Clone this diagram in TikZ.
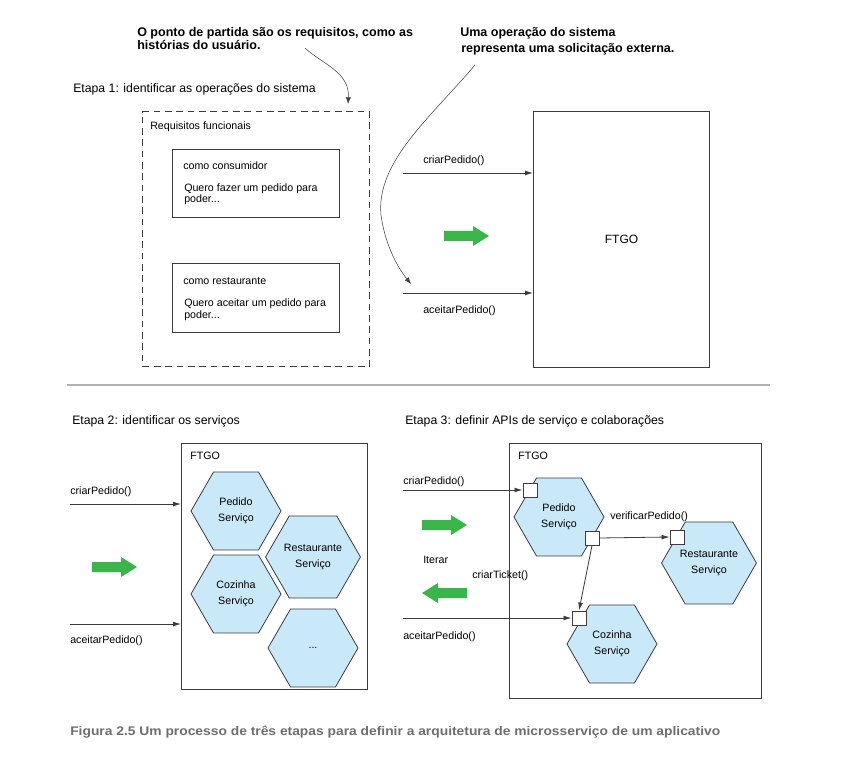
\documentclass[tikz,border=0pt]{standalone}
\usepackage{fontspec}
\setmainfont{Liberation Sans}
\usetikzlibrary{arrows.meta,shapes.geometric}
\definecolor{hexblue}{RGB}{201,232,248}
\definecolor{arrgreen}{RGB}{57,181,74}
\definecolor{capgray}{RGB}{110,110,110}
\definecolor{linegray}{RGB}{60,60,60}
\begin{document}
\begin{tikzpicture}[x=0.75pt,y=-0.75pt,
  small/.style={font=\fontsize{8}{9.6}\selectfont, inner sep=0pt, anchor=base west},
  stage/.style={font=\fontsize{9.2}{11}\selectfont, inner sep=0pt, anchor=base west},
  ann/.style={font=\bfseries\fontsize{9.4}{11}\selectfont, inner sep=0pt, anchor=base west},
  box/.style={draw=linegray, line width=0.8pt, inner sep=0pt},
  hexa/.style={regular polygon, regular polygon sides=6, minimum size=67.5pt, draw=linegray,
    fill=hexblue, line width=0.6pt, inner sep=0pt, align=center, font=\fontsize{8}{12}\selectfont},
  port/.style={draw=linegray, fill=white, minimum size=10.5pt, inner sep=0pt, line width=0.7pt},
  conn/.style={-{Latex[length=6pt,width=3.6pt]}, line width=0.6pt, draw=linegray},
  callout/.style={-{Latex[length=5pt,width=3.8pt]}, line width=0.4pt, draw=black!75},
  garrow/.pic={\fill[arrgreen] (0,-5) -- (29,-5) -- (29,-10) -- (45,0) -- (29,10) -- (29,5) -- (0,5) -- cycle;}
]
\useasboundingbox (0,0) rectangle (844,767);

% ---------- annotations ----------
\node[ann] (ann1a) at (137,37) {O ponto de partida são os requisitos, como as};
\node[ann] (ann1b) at (137,50) {histórias do usuário.};
\node[ann] (ann2a) at (460,37) {Uma operação do sistema};
\node[ann] (ann2b) at (461,53) {representa uma solicitação externa.};

\coordinate (c1a) at (305,48);
\coordinate (c1b) at (348,104);
\draw[callout] (c1a) .. controls (322,64) and (350,72) .. (c1b);
\coordinate (c2a) at (475,65);
\coordinate (c2m) at (381,215);
\coordinate (c2b) at (411,284);
\draw[callout] (c2a) .. controls (430,118) and (376,162) .. (c2m) .. controls (385,245) and (398,268) .. (c2b);

% ---------- stage 1 ----------
\node[stage] (et1) at (73,93) {Etapa 1: identificar as operações do sistema};
\node[draw=linegray, dashed, dash pattern=on 5pt off 3.5pt, line width=0.8pt, inner sep=0pt,
  anchor=north west, minimum width=170.25pt, minimum height=191.25pt] (req) at (142,111) {};
\node[small] (reqt) at (150,130) {Requisitos funcionais};
\node[box, anchor=north west, minimum width=125.25pt, minimum height=51pt] (us1) at (172,149) {};
\node[small] (us1a) at (183,170) {como consumidor};
\node[small] (us1b) at (184,191) {Quero fazer um pedido para};
\node[small] (us1c) at (184,203) {poder...};
\node[box, anchor=north west, minimum width=125.25pt, minimum height=51.75pt] (us2) at (172,263) {};
\node[small] (us2a) at (183,285) {como restaurante};
\node[small] (us2b) at (184,306) {Quero aceitar um pedido para};
\node[small] (us2c) at (184,318) {poder...};

\node[box, anchor=north west, minimum width=132pt, minimum height=192pt,
  font=\fontsize{9}{11}\selectfont] (ftgo1) at (533,111) {FTGO};
\coordinate (s1a) at (403,173);
\coordinate (s1b) at (403,293);
\draw[conn] (s1a) -- (s1a -| ftgo1.west);
\draw[conn] (s1b) -- (s1b -| ftgo1.west);
\node[small] (l1a) at (423,164) {criarPedido()};
\node[small] (l1b) at (423,313) {aceitarPedido()};
\pic at (444,236) {garrow};

% ---------- separator ----------
\draw[black!30, line width=1.5pt] (67,385) -- (770,385);

% ---------- stage 2 ----------
\node[stage] (et2) at (72,424) {Etapa 2: identificar os serviços};
\node[box, anchor=north west, minimum width=139.5pt, minimum height=184.5pt] (ftgo2) at (181,443) {};
\node[small] (ft2) at (190,459) {FTGO};
\node[hexa] (h2p) at (236,511) {Pedido\\Serviço};
\node[hexa] (h2r) at (313,557) {Restaurante\\Serviço};
\node[hexa] (h2c) at (236,594) {Cozinha\\Serviço};
\node[hexa] (h2d) at (313,648) {...};
\coordinate (s2a) at (70,504);
\coordinate (s2b) at (70,624);
\draw[conn] (s2a) -- (s2a -| ftgo2.west);
\draw[conn] (s2b) -- (s2b -| ftgo2.west);
\node[small] (l2a) at (70,494) {criarPedido()};
\node[small] (l2b) at (70,643) {aceitarPedido()};
\pic at (92,567) {garrow};

% ---------- stage 3 ----------
\node[stage] (et3) at (405,424) {Etapa 3: definir APIs de serviço e colaborações};
\node[box, anchor=north west, minimum width=189pt, minimum height=191.25pt] (ftgo3) at (509,443) {};
\node[small] (ft3) at (518,459) {FTGO};
\node[hexa] (h3p) at (559,517) {Pedido\\Serviço};
\node[hexa] (h3r) at (709,563) {Restaurante\\Serviço};
\node[hexa] (h3c) at (612,644) {Cozinha\\Serviço};
\node[port] (pin) at (530,490) {};
\node[port] (pout) at (592,538) {};
\node[port] (prest) at (677,537) {};
\node[port] (pcoz) at (579,618) {};
\coordinate (s3a) at (403,490);
\coordinate (s3b) at (403,618);
\draw[conn] (s3a) -- (pin.west);
\draw[conn] (pout.east) -- (prest.west);
\draw[conn] (pout.south) -- (pcoz.north);
\draw[conn] (s3b) -- (pcoz.west);
\node[small] (l3a) at (403,484) {criarPedido()};
\node[small] (l3v) at (610,519) {verificarPedido()};
\node[small] (l3i) at (423,563) {Iterar};
\node[small] (l3t) at (472,578) {criarTicket()};
\node[small] (l3b) at (403,639) {aceitarPedido()};
\pic at (422,525) {garrow};
\pic[rotate=180] at (467,593) {garrow};

% ---------- caption ----------
\node[anchor=base west, inner sep=0pt, text=capgray, font=\bfseries\fontsize{9.4}{11}\selectfont] (cap) at (70,735)
  {\resizebox{487.5pt}{\height}{Figura 2.5 Um processo de três etapas para definir a arquitetura de microsserviço de um aplicativo}};
\end{tikzpicture}
\end{document}
